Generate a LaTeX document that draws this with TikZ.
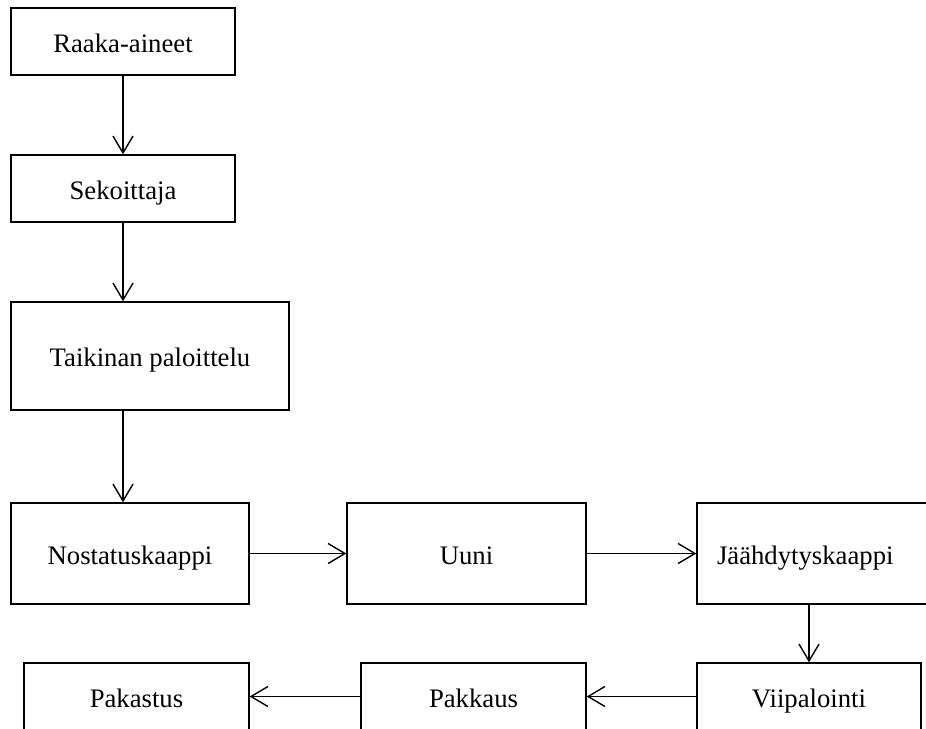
\documentclass[tikz,border=0pt]{standalone}
\usepackage{fontspec}
\setmainfont{Liberation Serif}
\usetikzlibrary{arrows.meta}

\begin{document}
\begin{tikzpicture}[x=0.02cm,y=-0.02cm,
		box/.style={draw=black,line width=0.8pt,inner sep=0pt,text height=13pt,text depth=1pt,font=\fontsize{15.2}{18}\selectfont},
		flow/.style={draw=black,line width=0.8pt,-{Straight Barb[length=9.6pt,width=11.4pt,line width=0.8pt]}}]
		\clip (0,0) rectangle (926,728);
		\useasboundingbox (0,0) rectangle (926,728);
		\node [box,minimum width=4.48cm,minimum height=1.34cm] (raaka) at (123,41.5) {Raaka-aineet};
		\node [box,minimum width=4.48cm,minimum height=1.34cm] (sekoitin) at (123,188.5) {Sekoittaja};
		\node [box,minimum width=5.56cm,minimum height=2.16cm] (taikina) at (150,356) {Taikinan paloittelu};
		\node [box,minimum width=4.76cm,minimum height=2.02cm] (nostatus) at (130,553.5) {Nostatuskaappi};
		\node [box,minimum width=4.78cm,minimum height=2.02cm] (uuni) at (466.5,553.5) {Uuni};
		\node [box,text width=3.98cm,inner xsep=0.4cm,align=left,minimum height=2.02cm] (jaah) at (816.5,553.5) {Jäähdytyskaappi};
		\node [box,minimum width=4.48cm,minimum height=1.34cm] (viip) at (809,696.5) {Viipalointi};
		\node [box,minimum width=4.5cm,minimum height=1.34cm] (pakkaus) at (473.5,696.5) {Pakkaus};
		\node [box,minimum width=4.5cm,minimum height=1.34cm] (pakastus) at (136.5,696.5) {Pakastus};
		% virtaus ylhaalta alas
		\draw [flow] (raaka.south) -- (sekoitin.north);
		\draw [flow] (sekoitin.south) -- (taikina.north -| sekoitin.south);
		\draw [flow] (taikina.south -| raaka.south) -- (nostatus.north -| raaka.south);
		% vaakarivi
		\draw [flow] (nostatus.east) -- (uuni.west);
		\draw [flow] (uuni.east) -- (jaah.west);
		\draw [flow] (jaah.south -| viip.north) -- (viip.north);
		% alarivi oikealta vasemmalle
		\draw [flow] (viip.west) -- (pakkaus.east);
		\draw [flow] (pakkaus.west) -- (pakastus.east);
	\end{tikzpicture}
\end{document}
